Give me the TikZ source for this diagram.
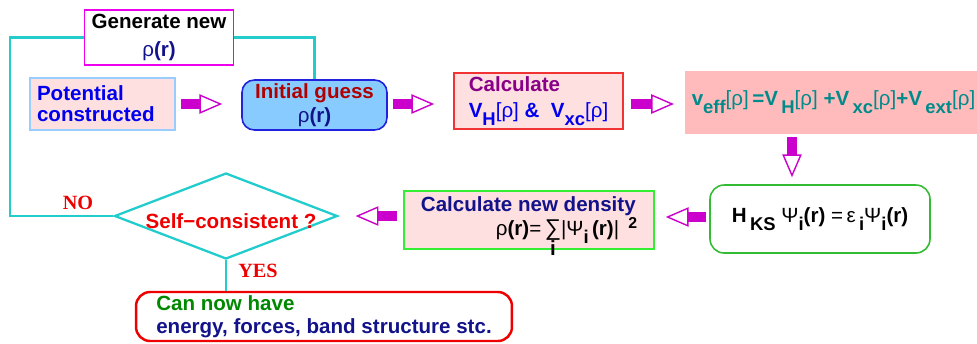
\documentclass[tikz,border=0pt]{standalone}
\usepackage{fontspec}
\setmainfont{Liberation Sans}
\newfontfamily\serifbold{Liberation Serif}
\usepackage{xcolor}
\definecolor{scfMag}{HTML}{CC00CC}
\definecolor{scfMagBox}{HTML}{EE00EE}
\definecolor{scfCyan}{HTML}{22CCCC}
\definecolor{scfPink}{HTML}{FFE0E0}
\definecolor{scfRose}{HTML}{FFBBBB}
\definecolor{scfSky}{HTML}{88CCFF}
\definecolor{scfSkyLine}{HTML}{99CCFF}
\definecolor{scfBlueLine}{HTML}{2222DD}
\definecolor{scfBlue}{HTML}{0000EE}
\definecolor{scfNavy}{HTML}{12128A}
\definecolor{scfDarkRed}{HTML}{B00000}
\definecolor{scfPurple}{HTML}{880088}
\definecolor{scfTeal}{HTML}{008B8B}
\definecolor{scfRed}{HTML}{EE0000}
\definecolor{scfGreen}{HTML}{008800}
\definecolor{scfGreenLine}{HTML}{33BB33}
\definecolor{scfLime}{HTML}{33EE33}
\usetikzlibrary{arrows.meta,shapes.geometric}
% regular-weight symbols inside bold text
\newcommand\dens{{\mdseries ρ}}
\newcommand\ofrho{{\mdseries[ρ]}}
\newcommand\wf{{\mdseries Ψ}}
\newcommand\en{{\mdseries ε}}
\newcommand\lowsub[1]{\raisebox{-0.38em}{\fontsize{10.5}{10.5}\selectfont #1}}

\begin{document}
\begin{tikzpicture}[x=0.02cm, y=-0.02cm,
  font=\fontsize{11.7}{11.8}\selectfont\bfseries,
  box/.style={line width=0.9pt, inner xsep=0.14cm, inner ysep=0pt},
  fat/.style={draw=scfMag, line width=5.6pt,
    -{Triangle[open, length=13pt, width=11pt, line width=0.8pt]}},
  loopline/.style={draw=scfCyan, line width=1.3pt},
  tag/.style={text=scfRed, font=\fontsize{11.5}{12}\selectfont\serifbold\bfseries}]
  \useasboundingbox (0,0) rectangle (977,343);

  % ---- top row ----
  \node[box, draw=scfMagBox, align=center, minimum width=2.92cm, minimum height=1.1cm]
    (gen) at (159,37.5) {Generate new\\[4pt] \textcolor{scfNavy}{\dens(r)}};
  \node[box, draw=scfSkyLine, fill=scfPink, text=scfBlue, align=left, text width=2.62cm,
    minimum height=1.04cm] (pot) at (102.5,104) {Potential\\constructed};
  \node[box, draw=scfBlueLine, fill=scfSky, rounded corners=7pt, align=center,
    minimum width=2.9cm, minimum height=1.0cm]
    (init) at (314.5,105) {\textcolor{scfDarkRed}{Initial guess}\\[2pt] \textcolor{scfNavy}{\dens(r)}};
  \node[box, draw=scfRed!80, fill=scfPink, align=left, minimum width=3.38cm, minimum height=1.12cm]
    (calc) at (538.5,101) {\textcolor{scfPurple}{Calculate}\\[3pt]
      \textcolor{scfBlue}{V\lowsub{H}\ofrho{} \& \ V\lowsub{xc}\ofrho}};
  \node[box, fill=scfRose, text=scfTeal, minimum width=5.74cm, minimum height=1.26cm]
    (veff) at (833.5,102.5) {v\lowsub{eff}\ofrho\,=V\,\lowsub{H}\ofrho\ +V\,\lowsub{xc}\ofrho+V\,\lowsub{ext}\ofrho};

  % ---- middle row ----
  \node[box, draw=scfGreenLine, rounded corners=8pt, minimum width=4.4cm, minimum height=1.36cm]
    (hks) at (820,219) {H\,\lowsub{KS} \wf\lowsub{i}(r) {\mdseries =}\,\en\,\lowsub{i}\wf\lowsub{i}(r)};
  \node[box, draw=scfLime, fill=scfPink, align=left, minimum width=5.0cm, minimum height=1.16cm]
    (newd) at (529,220) {\textcolor{scfNavy}{Calculate new density}\\
      \hspace*{1.5cm}\dens(r){\mdseries =}\,\raisebox{0pt}[\height][0pt]{\begin{tabular}[t]{@{}c@{}}{\mdseries\fontsize{13}{13}\selectfont ∑}\\[-1pt] i\end{tabular}}{\mdseries |}\wf\lowsub{i}\,(r){\mdseries |}\,\ \raisebox{0.35em}{\fontsize{9}{9}\selectfont 2}};
  \node[shape=diamond, draw=scfCyan, line width=1.3pt, inner sep=0pt,
    minimum width=4.46cm, minimum height=1.72cm,
    label={[text=scfRed, xshift=0.1cm, yshift=-0.1cm]center:Self−consistent ?}] (sc) at (226,216) {};
  \node[tag] (no) at (78,203) {NO};
  \node[tag] (yes) at (258,271) {YES};

  % ---- result ----
  \node[box, draw=scfRed, line width=1.4pt, rounded corners=8pt, align=left,
    minimum width=7.52cm, minimum height=0.98cm]
    (res) at (324,316.5) {\textcolor{scfGreen}{Can now have}\\[1pt] \textcolor{scfNavy}{energy, forces, band structure stc.}};

  % ---- cyan loop lines ----
  \draw[loopline] (gen.west) -- ++(-74,0) |- (sc.west);
  \draw[loopline] (gen.east) -| (init.north);
  \draw[loopline] (sc.south) -- (sc.south |- res.north);

  % ---- fat arrows ----
  \coordinate (drop) at (792,0);
  \draw[fat, shorten <=0.1cm, shorten >=0.38cm] (pot.east |- 0,104) -- (init.west |- 0,104);
  \draw[fat, shorten <=0.1cm, shorten >=0.38cm] (init.east |- 0,104) -- (calc.west |- 0,104);
  \draw[fat, shorten <=0.14cm, shorten >=0.2cm] (calc.east |- 0,104) -- (veff.west |- 0,104);
  \draw[fat, shorten <=0.04cm, shorten >=0.14cm] (veff.south -| drop) -- (hks.north -| drop);
  \draw[fat, shorten <=0.06cm, shorten >=0.22cm] (hks.west |- 0,217) -- (newd.east |- 0,217);
  \draw[fat, shorten <=0.12cm, shorten >=0.34cm] (newd.west |- 0,216) -- (sc.east |- 0,216);
\end{tikzpicture}
\end{document}
